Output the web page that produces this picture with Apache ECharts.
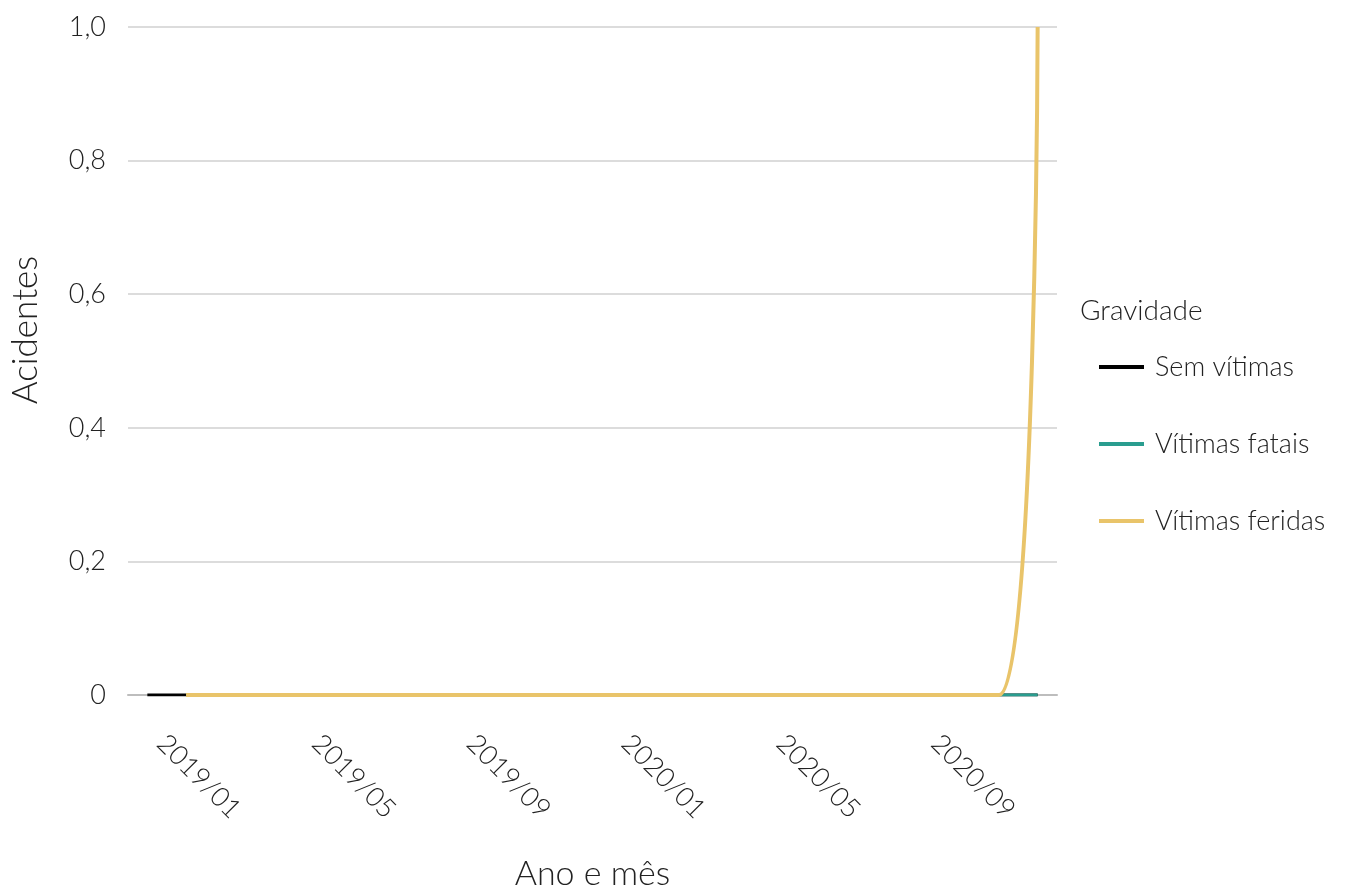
<!DOCTYPE html>
<html>
<head>
<meta charset="utf-8">
<script src="https://cdn.jsdelivr.net/npm/echarts@6/dist/echarts.min.js"></script>
<style>
html,body{margin:0;padding:0;background:#fff;}
#chart{width:1346px;height:891px;}
</style>
</head>
<body>
<div id="chart"></div>
<script>
const months = ['2019/01','2019/02','2019/03','2019/04','2019/05','2019/06','2019/07','2019/08','2019/09','2019/10','2019/11','2019/12',
                '2020/01','2020/02','2020/03','2020/04','2020/05','2020/06','2020/07','2020/08','2020/09','2020/10','2020/11','2020/12'];
const semVitimas   = [0,0,0,0,0,0,0,0,0,0,0,0,0,0,0,0,0,0,0,0,0,0,0,0];
const vitimasFatais = [null,0,0,0,0,0,0,0,0,0,0,0,0,0,0,0,0,0,0,0,0,0,0,0];
const vitimasFeridas = [null,0,0,0,0,0,0,0,0,0,0,0,0,0,0,0,0,0,0,0,0,0,0,1];
const yTicks = [0,0.2,0.4,0.6,0.8,1.0];

const FONT = 'Lato';
const chart = echarts.init(document.getElementById('chart'));
chart.setOption({
  animation:false,
  backgroundColor:'#fff',
  title:{
    text:'Gravidade', left:1080, top:297, padding:0,
    textStyle:{fontFamily:FONT, fontWeight:300, fontSize:28, color:'#222'}
  },
  legend:{
    orient:'vertical', left:1099, top:352, padding:0,
    icon:'rect', itemWidth:45, itemHeight:4, itemGap:47,
    textStyle:{fontFamily:FONT, fontWeight:300, fontSize:27, lineHeight:30, color:'#222', padding:[0,0,0,6]},
    data:['Sem vítimas','Vítimas fatais','Vítimas feridas']
  },
  grid:{left:128, right:289, top:27, bottom:196, containLabel:false, outerBoundsMode:'none'},
  xAxis:{
    type:'category', data:months, boundaryGap:true,
    name:'Ano e mês', nameLocation:'middle', nameGap:162,
    nameTextStyle:{fontFamily:FONT, fontWeight:300, fontSize:34, color:'#222'},
    axisLine:{lineStyle:{color:'#bdbdbd', width:2}},
    axisTick:{show:false},
    axisLabel:{interval:3, rotate:-45, margin:30, fontFamily:FONT, fontWeight:300, fontSize:27, color:'#222', padding:[0,0,0,20]},
    splitLine:{show:false}
  },
  yAxis:{
    type:'value', min:0, max:1, interval:0.2,
    name:'Acidentes', nameLocation:'middle', nameGap:85, nameRotate:90,
    nameTextStyle:{fontFamily:FONT, fontWeight:300, fontSize:35, color:'#222', padding:[0,0,0,62]},
    axisLine:{show:false}, axisTick:{show:false},
    axisLabel:{margin:22, fontFamily:FONT, fontWeight:300, fontSize:27, color:'#222',
      formatter:function(v){ return v===0 ? '0' : v.toFixed(1).replace('.', ','); }},
    splitLine:{lineStyle:{color:'#dcdcdc', width:2}}
  },
  series:[
    {name:'Sem vítimas', type:'line', data:semVitimas, smooth:true, showSymbol:false,
      lineStyle:{color:'#000000', width:3}, itemStyle:{color:'#000000'}},
    {name:'Vítimas fatais', type:'line', data:vitimasFatais, smooth:true, showSymbol:false,
      lineStyle:{color:'#2a9d8f', width:3}, itemStyle:{color:'#2a9d8f'}},
    {name:'Vítimas feridas', type:'line', data:vitimasFeridas, smooth:true, showSymbol:false,
      lineStyle:{color:'#e9c46a', width:4}, itemStyle:{color:'#e9c46a'}}
  ]
});
</script>
</body>
</html>
